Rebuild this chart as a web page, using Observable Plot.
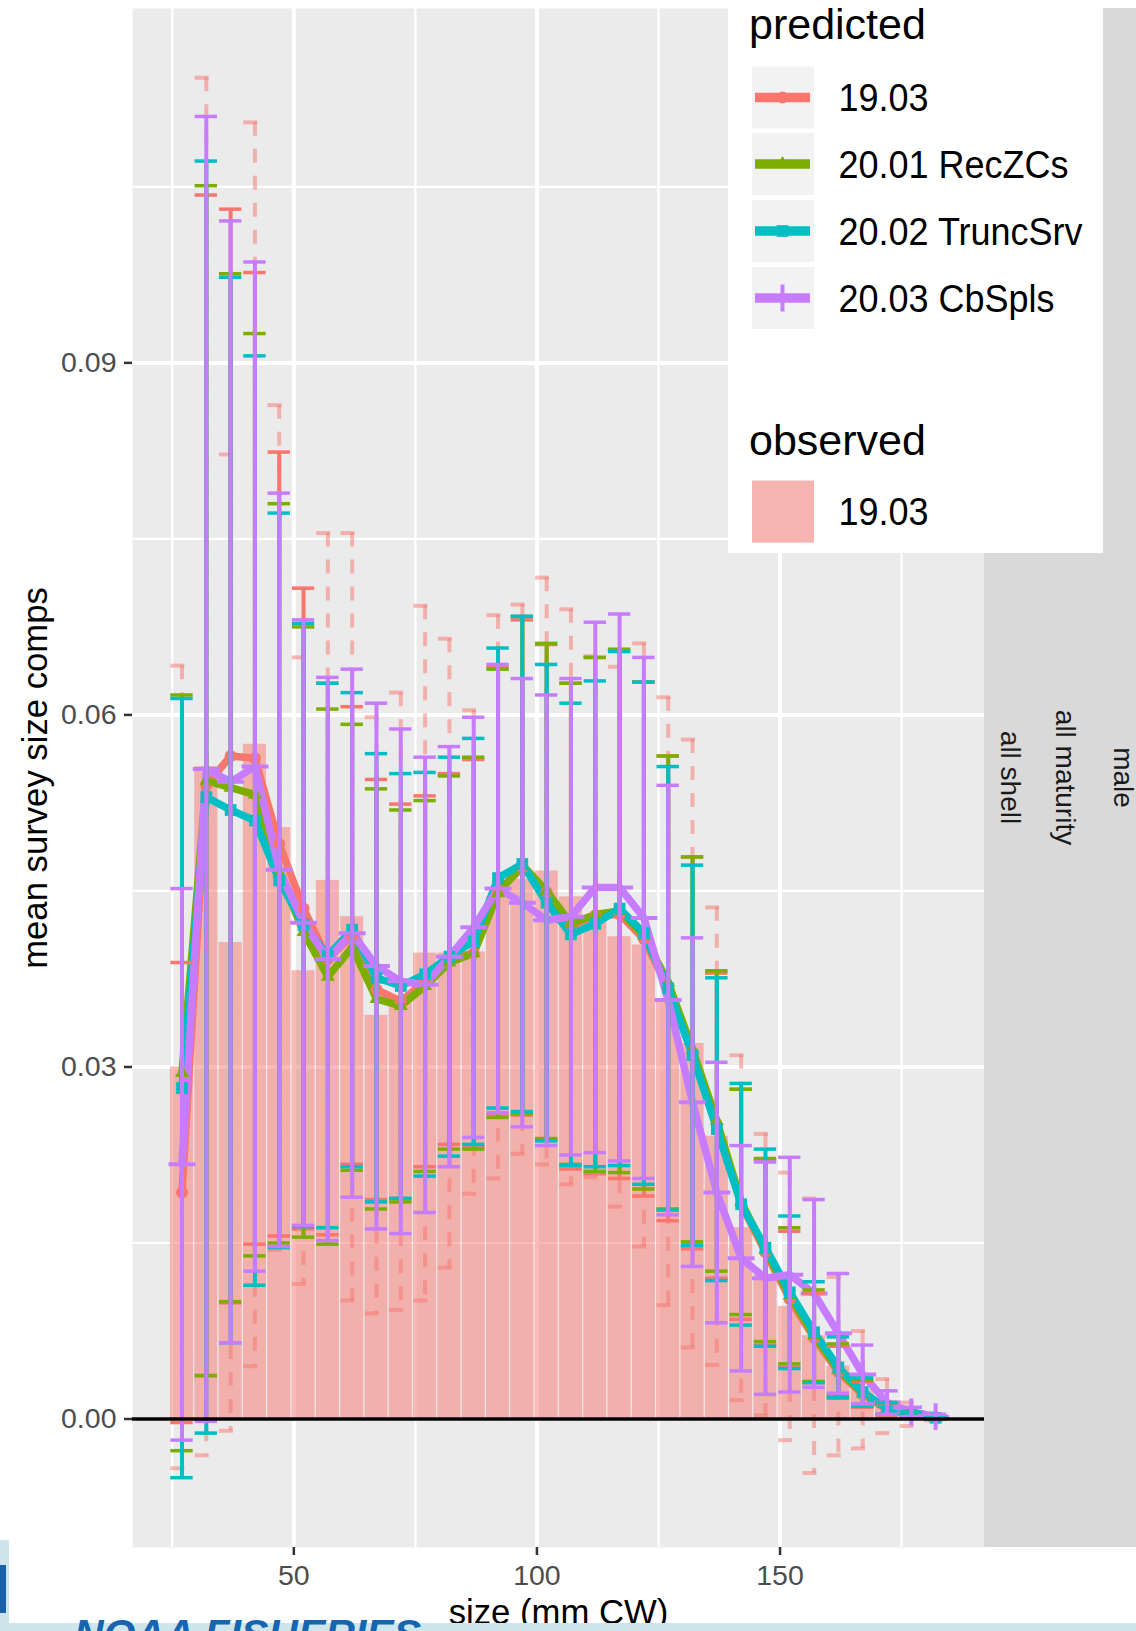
<!DOCTYPE html>
<html>
<head>
<meta charset="utf-8">
<script src="https://cdn.jsdelivr.net/npm/d3@7"></script>
<script src="https://cdn.jsdelivr.net/npm/@observablehq/plot@0.6"></script>
<style>
html, body { margin: 0; padding: 0; background: #fff; overflow: hidden; }
#wrap { position: relative; width: 1136px; height: 1631px; }
</style>
</head>
<body>
<div id="wrap"></div>
<script>
const FONT = '"Liberation Sans", Arial, Helvetica, sans-serif';

// size bins (mm CW)
const sizes = [27,32,37,42,47,52,57,62,67,72,77,82,87,92,97,102,107,112,117,122,127,132,137,142,147,152,157,162,167,172,177,182];

// observed 19.03 mean size comps and their spread
const observed = [0.0300,0.0556,0.0406,0.0575,0.0504,0.0382,0.0459,0.0428,0.0344,0.0356,0.0397,0.0397,0.0398,0.0445,0.0460,0.0467,0.0445,0.0428,0.0411,0.0404,0.0356,0.0320,0.0241,0.0163,0.0123,0.0096,0.0071,0.0045,0.0025,0.0011,0.0004,0.0002];
const observedSd = [0.0342,0.0587,0.0416,0.0530,0.0360,0.0267,0.0296,0.0327,0.0254,0.0263,0.0296,0.0268,0.0206,0.0240,0.0234,0.0250,0.0245,0.0222,0.0230,0.0257,0.0259,0.0259,0.0195,0.0147,0.0120,0.0114,0.0117,0.0076,0.0050,0.0023,0.0010,0.0003];

// predicted, per model
const modelNames = ["19.03", "20.01 RecZCs", "20.02 TruncSrv", "20.03 CbSpls"];
const modelColors = ["#F8766D", "#7CAE00", "#00BFC4", "#C77CFF"];

const pred1903 = [0.0193,0.0540,0.0565,0.0563,0.0490,0.0435,0.0392,0.0412,0.0366,0.0356,0.0373,0.0392,0.0397,0.0450,0.0470,0.0449,0.0420,0.0429,0.0430,0.0409,0.0367,0.0312,0.0250,0.0183,0.0142,0.0102,0.0069,0.0040,0.0021,0.0008,0.0004,0.0001];
const sd1903   = [0.0196,0.0503,0.0466,0.0414,0.0334,0.0273,0.0235,0.0195,0.0179,0.0168,0.0158,0.0158,0.0165,0.0191,0.0211,0.0211,0.0207,0.0220,0.0225,0.0219,0.0198,0.0167,0.0130,0.0098,0.0079,0.0058,0.0038,0.0022,0.0011,0.0005,0.0002,0.0001];

const pred2001 = [0.0295,0.0544,0.0538,0.0532,0.0465,0.0415,0.0377,0.0402,0.0358,0.0352,0.0369,0.0389,0.0397,0.0448,0.0472,0.0450,0.0422,0.0430,0.0433,0.0412,0.0372,0.0315,0.0254,0.0185,0.0144,0.0105,0.0071,0.0042,0.0022,0.0009,0.0004,0.0001];
const sd2001   = [0.0322,0.0507,0.0438,0.0393,0.0315,0.0260,0.0228,0.0190,0.0179,0.0167,0.0158,0.0159,0.0167,0.0191,0.0212,0.0211,0.0205,0.0219,0.0223,0.0216,0.0193,0.0164,0.0128,0.0096,0.0078,0.0058,0.0039,0.0022,0.0011,0.0005,0.0002,0.0001];

const pred2002 = [0.0282,0.0530,0.0519,0.0510,0.0459,0.0421,0.0395,0.0417,0.0376,0.0369,0.0379,0.0394,0.0407,0.0461,0.0473,0.0440,0.0413,0.0422,0.0435,0.0414,0.0367,0.0310,0.0247,0.0183,0.0146,0.0108,0.0074,0.0044,0.0023,0.0009,0.0004,0.0001];
const sd2002   = [0.0332,0.0542,0.0454,0.0396,0.0313,0.0257,0.0232,0.0202,0.0191,0.0181,0.0172,0.0170,0.0173,0.0196,0.0211,0.0203,0.0197,0.0207,0.0219,0.0214,0.0189,0.0162,0.0129,0.0103,0.0084,0.0065,0.0043,0.0026,0.0012,0.0005,0.0002,0.0001];

const pred2003 = [0.0217,0.0554,0.0543,0.0556,0.0468,0.0423,0.0392,0.0414,0.0386,0.0373,0.0370,0.0394,0.0419,0.0452,0.0440,0.0425,0.0428,0.0453,0.0453,0.0427,0.0357,0.0270,0.0193,0.0137,0.0120,0.0123,0.0107,0.0073,0.0038,0.0014,0.0006,0.0002];
const sd2003   = [0.0235,0.0556,0.0478,0.0430,0.0321,0.0258,0.0240,0.0225,0.0224,0.0215,0.0194,0.0179,0.0179,0.0191,0.0191,0.0192,0.0203,0.0226,0.0233,0.0222,0.0183,0.0140,0.0111,0.0096,0.0099,0.0100,0.0080,0.0051,0.0025,0.0010,0.0004,0.0002];

const xTicks = [50, 100, 150];
const xMinor = [25, 75, 125, 175];
const yTicks = [0, 0.03, 0.06, 0.09];
const yMinor = [0.015, 0.045, 0.075, 0.105];
const stripLabels = ["all shell", "all maturity", "male"];

// ---- build tables ----
const predSeries = [pred1903, pred2001, pred2002, pred2003];
const sdSeries = [sd1903, sd2001, sd2002, sd2003];
const pred = modelNames.flatMap((m, i) => sizes.map((s, j) => ({
  size: s, model: m, value: predSeries[i][j],
  lo: predSeries[i][j] - sdSeries[i][j], hi: predSeries[i][j] + sdSeries[i][j]
})));
const obs = sizes.map((s, j) => ({
  size: s, value: observed[j], lo: observed[j] - observedSd[j], hi: observed[j] + observedSd[j]
}));

const capHalf = 2.3;
const xDomain = [16.82, 192.05];
const yDomain = [-0.01095, 0.1202];

const symbolOpts = [
  {symbol: "circle", r: 6, fill: "model"},
  {symbol: "triangle", r: 5.2, fill: "model"},
  {symbol: "square", r: 6.6, fill: "model"},
  {symbol: "plus", r: 8.7, stroke: "model", strokeWidth: 4, fill: "none"}
];

const marks = [
  Plot.frame({fill: "#EBEBEB", stroke: "none"}),
  Plot.gridX(xMinor, {stroke: "white", strokeOpacity: 1, strokeWidth: 2.2}),
  Plot.gridY(yMinor, {stroke: "white", strokeOpacity: 1, strokeWidth: 2.2}),
  Plot.gridX(xTicks, {stroke: "white", strokeOpacity: 1, strokeWidth: 4}),
  Plot.gridY(yTicks, {stroke: "white", strokeOpacity: 1, strokeWidth: 4}),
  Plot.rectY(obs, {x1: d => d.size - 2.5, x2: d => d.size + 2.5, y1: 0, y2: "value",
    fill: "#F8766D", fillOpacity: 0.5, insetLeft: 0.6, insetRight: 0.6}),
  // observed error bars (dashed)
  Plot.ruleX(obs, {x: "size", y1: "hi", y2: "lo", stroke: "#F8766D", strokeOpacity: 0.5, strokeWidth: 4, strokeDasharray: "14,13"}),
  Plot.ruleY(obs, {y: "hi", x1: d => d.size - capHalf, x2: d => d.size + capHalf, stroke: "#F8766D", strokeOpacity: 0.5, strokeWidth: 4, strokeDasharray: "14,13"}),
  Plot.ruleY(obs, {y: "lo", x1: d => d.size - capHalf, x2: d => d.size + capHalf, stroke: "#F8766D", strokeOpacity: 0.5, strokeWidth: 4, strokeDasharray: "14,13"}),
  // predicted lines
  ...modelNames.map(m => Plot.line(pred.filter(d => d.model === m), {x: "size", y: "value", stroke: "model", strokeWidth: 7.5, strokeLinejoin: "round"})),
  ...modelNames.map((m, i) => Plot.dot(pred.filter(d => d.model === m), {x: "size", y: "value", ...symbolOpts[i]})),
];
modelNames.forEach(m => {
  const dd = pred.filter(d => d.model === m);
  marks.push(
    Plot.ruleX(dd, {x: "size", y1: "hi", y2: "lo", stroke: "model", strokeWidth: 4}),
    Plot.ruleY(dd, {y: "hi", x1: d => d.size - capHalf, x2: d => d.size + capHalf, stroke: "model", strokeWidth: 3.5}),
    Plot.ruleY(dd, {y: "lo", x1: d => d.size - capHalf, x2: d => d.size + capHalf, stroke: "model", strokeWidth: 3.5})
  );
});
marks.push(
  Plot.ruleY([0], {stroke: "black", strokeWidth: 3.3}),
  Plot.axisY({ticks: yTicks, tickFormat: d3.format(".2f"), tickSize: 8, tickPadding: 8, fontSize: 28.5, fill: "#4D4D4D", stroke: "#333333", strokeWidth: 2.5, label: null}),
  Plot.axisX({ticks: xTicks, tickSize: 8, tickPadding: 9, fontSize: 28.5, fill: "#4D4D4D", stroke: "#333333", strokeWidth: 2.5, label: null}),
  Plot.text(["mean survey size comps"], {text: d => d, frameAnchor: "left", dx: -96.6, rotate: -90, textAnchor: "middle", fontSize: 34.7, fill: "black"}),
  Plot.text(["size (mm CW)"], {text: d => d, frameAnchor: "bottom", dy: 76, textAnchor: "middle", lineAnchor: "bottom", fontSize: 34.7, fill: "black"})
);

const chart = Plot.plot({
  width: 1136, height: 1631,
  marginTop: 8, marginBottom: 84, marginLeft: 132, marginRight: 152,
  style: {fontFamily: FONT, background: "white", overflow: "visible"},
  x: {domain: xDomain},
  y: {domain: yDomain},
  color: {domain: modelNames, range: modelColors},
  marks
});
document.getElementById("wrap").appendChild(chart);

// ---- decorations: facet strip, legend, footer band ----
const svg = d3.select(chart);
const deco = svg.append("g").attr("font-family", FONT).attr("text-anchor", "start");

// facet strip
deco.append("rect").attr("x", 984).attr("y", 8).attr("width", 152).attr("height", 1539).attr("fill", "#D9D9D9");
const stripX = [1010, 1065, 1123];
stripLabels.forEach((t, i) => {
  deco.append("text").attr("transform", `translate(${stripX[i]},777.5) rotate(90)`)
    .attr("text-anchor", "middle").attr("dominant-baseline", "central")
    .attr("font-size", 28).attr("fill", "#1A1A1A").text(t);
});

// legend
const lg = deco.append("g");
lg.append("rect").attr("x", 728).attr("y", 0).attr("width", 375).attr("height", 553).attr("fill", "white");
function ltext(x, y, size, t, stretch) {
  lg.append("text").attr("transform", `translate(${x},${y}) scale(1,${stretch})`)
    .attr("text-anchor", "start")
    .attr("font-size", size).attr("fill", "black").text(t);
}
ltext(749, 38.5, 43, "predicted", 1.0);
const keyY = [66.5, 133, 200, 267];
const keySymbols = [d3.symbolCircle, d3.symbolTriangle, d3.symbolSquare, d3.symbolPlus];
const keySizes = [113, 84, 137, 237];
modelNames.forEach((m, i) => {
  const y0 = keyY[i], cy = y0 + 31;
  lg.append("rect").attr("x", 752).attr("y", y0).attr("width", 62).attr("height", 62).attr("fill", "#F2F2F2");
  lg.append("line").attr("x1", 755).attr("x2", 810).attr("y1", cy).attr("y2", cy)
    .attr("stroke", modelColors[i]).attr("stroke-width", 9.3);
  const p = lg.append("path").attr("d", d3.symbol(keySymbols[i], keySizes[i])())
    .attr("transform", `translate(782.5,${cy})`);
  if (i === 3) p.attr("fill", "none").attr("stroke", modelColors[i]).attr("stroke-width", 4);
  else p.attr("fill", modelColors[i]);
  ltext(838.5, cy + 13.5, 36, m, 1.08);
});
ltext(749, 454.6, 43, "observed", 1.0);
lg.append("rect").attr("x", 752).attr("y", 480.6).attr("width", 62).attr("height", 62).attr("fill", "#F2F2F2");
lg.append("rect").attr("x", 752).attr("y", 480.6).attr("width", 62).attr("height", 62).attr("fill", "#F8766D").attr("fill-opacity", 0.5);
ltext(838.5, 525, 36, "19.03", 1.08);

// footer band (slide template)
deco.append("rect").attr("x", 0).attr("y", 1623).attr("width", 1136).attr("height", 8).attr("fill", "#CDE6EB");
deco.append("rect").attr("x", 0).attr("y", 1540).attr("width", 9).attr("height", 91).attr("fill", "#CDE6EB");
deco.append("rect").attr("x", 0).attr("y", 1565).attr("width", 6).attr("height", 48).attr("fill", "#1A5FA8");
deco.append("text").attr("x", 74).attr("y", 1648).attr("font-size", 41).attr("font-weight", "bold")
  .attr("font-style", "italic").attr("text-anchor", "start").attr("fill", "#1565B0").text("NOAA FISHERIES");
</script>
</body>
</html>
